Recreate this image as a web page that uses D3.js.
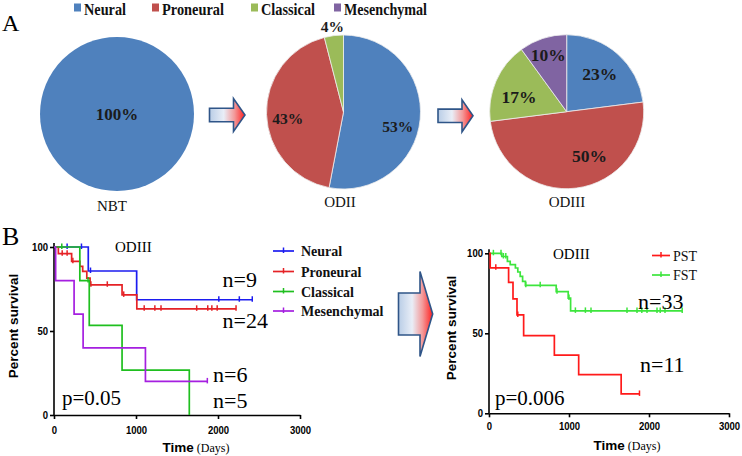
<!DOCTYPE html>
<html><head><meta charset="utf-8">
<script src="https://cdn.jsdelivr.net/npm/d3@7/dist/d3.min.js"></script>
<style>
html,body{margin:0;padding:0;background:#fff;}
svg{display:block;}
</style></head><body>
<svg id="c" width="742" height="456"></svg>
<script>
// ---------- Panel A: subtype proportions ----------
const subtypes = ["Neural", "Proneural", "Classical", "Mesenchymal"];
const subtypeColors = ["#4f81bd", "#c0504d", "#9bbb59", "#8064a2"];
const pieGroups = ["NBT", "ODII", "ODIII"];
const neuralPct = [100, 53, 23];
const proneuralPct = [0, 43, 50];
const classicalPct = [0, 4, 17];
const mesenchymalPct = [0, 0, 10];

// ---------- Panel B left: KM by subtype (ODIII) ----------
const kmXTicks = [0, 1000, 2000, 3000];
const kmYTicks = [0, 50, 100];
const neuralT = [0, 418, 1008, 2418];
const neuralS = [100, 85.7, 68.6, 68.6];
const neuralCens = [160, 335, 445, 2010, 2260, 2418];
const proneuralT = [0, 53, 215, 315, 350, 400, 440, 830, 1010, 2220];
const proneuralS = [100, 96, 91.5, 88.5, 85.5, 81.5, 77.5, 71.5, 63.2, 63.2];
const proneuralCens = [100, 160, 230, 450, 650, 850, 1100, 1230, 1305, 1740, 1875, 1925, 1990, 2220];
const classicalT = [0, 315, 430, 830, 1650];
const classicalS = [100, 80, 53.3, 26.7, 0];
const classicalCens = [95, 415];
const mesenchymalT = [0, 20, 245, 355, 1115, 1870];
const mesenchymalS = [100, 80, 60, 40, 20, 20];
const mesenchymalCens = [1870];
const leftNLabels = ["n=9", "n=24", "n=6", "n=5"];
const leftP = "p=0.05";

// ---------- Panel B right: KM PST vs FST ----------
const pstT = [0, 15, 245, 300, 350, 433, 817, 1121, 1652, 1881];
const pstS = [100, 90.9, 81.8, 71.5, 61.5, 48.5, 36.4, 24.2, 12.1, 12.1];
const pstCens = [85, 360, 1881];
const fstT = [0, 160, 230, 265, 330, 360, 390, 420, 455, 840, 990, 1020, 2415];
const fstS = [100, 98, 95, 92.9, 90.8, 88.3, 85.6, 82.5, 80, 76, 72, 64, 64];
const fstCens = [55, 150, 180, 210, 460, 640, 850, 1000, 1080, 1205, 1275, 1725, 1850, 1910, 1975, 2100, 2140, 2200, 2415];
const rightNLabels = ["n=33", "n=11"];
const rightP = "p=0.006";

const svg = d3.select("#c");
const SERIF = '"Liberation Serif","Times New Roman",serif';
const SANS = '"Liberation Sans",Arial,sans-serif';

// gradient for arrows
const defs = svg.append("defs");
const grad = defs.append("linearGradient").attr("id", "ag").attr("x1", "0").attr("x2", "1").attr("y1", "0").attr("y2", "0");
grad.append("stop").attr("offset", "0%").attr("stop-color", "#b9cde6");
grad.append("stop").attr("offset", "40%").attr("stop-color", "#e9eef7");
grad.append("stop").attr("offset", "70%").attr("stop-color", "#f39a9a");
grad.append("stop").attr("offset", "100%").attr("stop-color", "#ff1f1f");

function arrow(x0, xh, xt, yc, sh, hh) {
  const p = d3.path();
  p.moveTo(x0, yc - sh); p.lineTo(xh, yc - sh); p.lineTo(xh, yc - hh); p.lineTo(xt, yc);
  p.lineTo(xh, yc + hh); p.lineTo(xh, yc + sh); p.lineTo(x0, yc + sh); p.closePath();
  svg.append("path").attr("d", p.toString()).attr("fill", "url(#ag)")
    .attr("stroke", "#2f5588").attr("stroke-width", 1.6).attr("stroke-linejoin", "miter");
}

// ---------- Top legend ----------
const legX = [74, 152, 251, 334];
const legW = [42, 62, 54, 83];
const leg = svg.append("g");
subtypes.forEach((s, i) => {
  leg.append("rect").attr("x", legX[i]).attr("y", 3.5).attr("width", 7).attr("height", 8).attr("fill", subtypeColors[i]);
  leg.append("text").attr("x", legX[i] + 10).attr("y", 15).attr("font-family", SERIF).attr("font-weight", "bold")
    .attr("font-size", 16.5).attr("fill", "#111").attr("textLength", legW[i]).attr("lengthAdjust", "spacingAndGlyphs").text(s);
});
svg.append("text").attr("x", 2).attr("y", 31).attr("font-family", SERIF).attr("font-size", 24).text("A");
svg.append("text").attr("x", 2).attr("y", 245).attr("font-family", SERIF).attr("font-size", 26).text("B");

// ---------- Pies ----------
const pieCenters = [[117, 114], [343.5, 112], [566.7, 111.7]];
const pieR = 77;
const pieTitleY = [211, 207, 207];
const pieTitleX = [112, 340, 567];
const pieFont = [17, 15.5, 17.5];
const pie = d3.pie().sort(null).value(d => d.v);
const arcG = d3.arc().innerRadius(0).outerRadius(pieR);
pieGroups.forEach((g, gi) => {
  const vals = [neuralPct[gi], proneuralPct[gi], classicalPct[gi], mesenchymalPct[gi]]
    .map((v, i) => ({ v, i }));
  const arcs = pie(vals).filter(a => a.data.v > 0);
  const G = svg.append("g").attr("transform", `translate(${pieCenters[gi][0]},${pieCenters[gi][1]})`);
  G.selectAll("path").data(arcs).join("path").attr("d", arcG)
    .attr("fill", d => subtypeColors[d.data.i]).attr("stroke", arcs.length > 1 ? "#eeeeee" : "none").attr("stroke-width", 0.8);
  arcs.forEach(a => {
    let pos;
    if (arcs.length === 1) pos = [0, 6];
    else if (a.data.v < 6) {
      const c = d3.arc().innerRadius(pieR + 12).outerRadius(pieR + 12).centroid(a);
      pos = [c[0], c[1] + 8];
    } else {
      const rr = gi === 1 ? 56 : (a.data.v <= 10 ? 60 : 50);
      let ang = (a.startAngle + a.endAngle) / 2;
      if (gi === 2 && a.data.i === 1) ang -= 0.35;
      if (gi === 2 && a.data.i === 2) ang -= 0.1;
      if (gi === 1 && a.data.i === 0) ang += 0.15;
      if (gi === 1 && a.data.i === 1) ang -= 0.07;
      pos = [Math.sin(ang) * rr, -Math.cos(ang) * rr + 6];
    }
    G.append("text").attr("x", pos[0]).attr("y", pos[1]).attr("text-anchor", "middle")
      .attr("font-family", SERIF).attr("font-weight", "bold").attr("font-size", pieFont[gi])
      .attr("fill", "#1b1b1b").text(a.data.v + "%");
  });
  svg.append("text").attr("x", pieTitleX[gi]).attr("y", pieTitleY[gi]).attr("text-anchor", "middle")
    .attr("font-family", SERIF).attr("font-size", 15).attr("fill", "#111").text(g);
});

arrow(209.5, 233.5, 245, 115, 6.7, 16.5);
arrow(438, 462, 473, 115.8, 6.7, 16);
arrow(398.5, 420, 432.7, 314, 21, 42.5);

// ---------- KM helper ----------
function km(g, x, y, T, S, cens, color) {
  const pts = T.map((t, i) => [t, S[i]]);
  const line = d3.line().x(d => x(d[0])).y(d => y(d[1])).curve(d3.curveStepAfter);
  g.append("path").attr("d", line(pts)).attr("fill", "none").attr("stroke", color).attr("stroke-width", 1.7);
  g.selectAll(null).data(cens).join("line")
    .attr("x1", d => x(d)).attr("x2", d => x(d))
    .attr("y1", d => y(S[Math.max(0, d3.bisectRight(T, d) - 1)]) - 3.5)
    .attr("y2", d => y(S[Math.max(0, d3.bisectRight(T, d) - 1)]) + 2)
    .attr("stroke", color).attr("stroke-width", 1.5);
}
function axes(g, x, y, xpad) {
  const ax = g.append("g").attr("transform", `translate(0,${y(0)})`)
    .call(d3.axisBottom(x).tickValues(kmXTicks).tickFormat(d3.format("d")).tickSize(4).tickSizeOuter(0).tickPadding(xpad));
  const ay = g.append("g").attr("transform", `translate(${x(0)},0)`)
    .call(d3.axisLeft(y).tickValues(kmYTicks).tickFormat(d3.format("d")).tickSize(4).tickSizeOuter(0).tickPadding(2));
  [ax, ay].forEach(a => {
    a.selectAll("path,line").attr("stroke", "#000").attr("stroke-width", 1.6);
    a.selectAll("text").attr("font-family", SANS)
      .attr("font-weight", "bold").attr("font-size", 11).attr("fill", "#000")
      .attr("textLength", function () { return this.textContent.length * 5.3; })
      .attr("lengthAdjust", "spacingAndGlyphs");
  });
  ay.select(".domain").attr("d", `M0,${y(0)}V${y(100) - 4}`);
}
function yLabel(xp, yp) {
  svg.append("text").attr("transform", `translate(${xp},${yp}) rotate(-90)`).attr("text-anchor", "middle")
    .attr("font-family", SANS).attr("font-weight", "bold").attr("font-size", 13.5).text("Percent survival");
}
function xLabel(xp, yp) {
  const t = svg.append("text").attr("x", xp).attr("y", yp).attr("text-anchor", "middle");
  t.append("tspan").attr("font-family", SANS).attr("font-weight", "bold").attr("font-size", 13.5).text("Time");
  t.append("tspan").attr("font-family", SERIF).attr("font-size", 12).text(" (Days)");
}
function bigText(xp, yp, s, size) {
  svg.append("text").attr("x", xp).attr("y", yp).attr("font-family", SERIF).attr("font-size", size || 22).attr("fill", "#000").text(s);
}

// ---------- Left KM ----------
const xL = d3.scaleLinear().domain([0, 3000]).range([54, 300]);
const yL = d3.scaleLinear().domain([0, 100]).range([415, 247]);
const gL = svg.append("g");
axes(gL, xL, yL, 7);
const leftColors = ["#1c1cf0", "#e52226", "#1fbf1f", "#a51fe0"];
km(gL, xL, yL, neuralT, neuralS, neuralCens, leftColors[0]);
km(gL, xL, yL, proneuralT, proneuralS, proneuralCens, leftColors[1]);
km(gL, xL, yL, classicalT, classicalS, classicalCens, leftColors[2]);
km(gL, xL, yL, mesenchymalT, mesenchymalS, mesenchymalCens, leftColors[3]);
yLabel(18, 326);
xLabel(196, 452);
bigText(115, 252, "ODIII", 15);
const legLY = [251, 271.5, 291.5, 311];
subtypes.forEach((s, i) => {
  svg.append("line").attr("x1", 273).attr("x2", 294).attr("y1", legLY[i]).attr("y2", legLY[i]).attr("stroke", leftColors[i]).attr("stroke-width", 1.7);
  svg.append("line").attr("x1", 283.5).attr("x2", 283.5).attr("y1", legLY[i] - 3.5).attr("y2", legLY[i] + 2).attr("stroke", leftColors[i]).attr("stroke-width", 1.5);
  svg.append("text").attr("x", 301).attr("y", legLY[i] + 5).attr("font-family", SERIF).attr("font-weight", "bold")
    .attr("font-size", 14).attr("fill", "#111").text(s);
});
const leftNPos = [[222.5, 287], [222.5, 328], [213, 382], [213, 408]];
leftNLabels.forEach((s, i) => bigText(leftNPos[i][0], leftNPos[i][1], s));
bigText(62, 405, leftP, 21);

// ---------- Right KM ----------
const xR = d3.scaleLinear().domain([0, 3000]).range([489, 729]);
const yR = d3.scaleLinear().domain([0, 100]).range([413.3, 253.3]);
const gR = svg.append("g");
axes(gR, xR, yR, 5);
const rightColors = ["#ff1a1a", "#3de53d"];
km(gR, xR, yR, fstT, fstS, fstCens, rightColors[1]);
km(gR, xR, yR, pstT, pstS, pstCens, rightColors[0]);
yLabel(456, 328);
xLabel(627, 450);
bigText(553, 259, "ODIII", 15);
const rightNames = ["PST", "FST"];
const legRY = [255.5, 275];
rightNames.forEach((s, i) => {
  svg.append("line").attr("x1", 652).attr("x2", 670).attr("y1", legRY[i]).attr("y2", legRY[i]).attr("stroke", rightColors[i]).attr("stroke-width", 1.7);
  svg.append("line").attr("x1", 661).attr("x2", 661).attr("y1", legRY[i] - 3.5).attr("y2", legRY[i] + 2).attr("stroke", rightColors[i]).attr("stroke-width", 1.5);
  svg.append("text").attr("x", 673).attr("y", legRY[i] + 5).attr("font-family", SERIF)
    .attr("font-size", 14).attr("fill", "#111").text(s);
});
const rightNPos = [[638, 308.5], [640, 372]];
rightNLabels.forEach((s, i) => bigText(rightNPos[i][0], rightNPos[i][1], s));
bigText(495, 405, rightP, 21);
</script>
</body></html>
